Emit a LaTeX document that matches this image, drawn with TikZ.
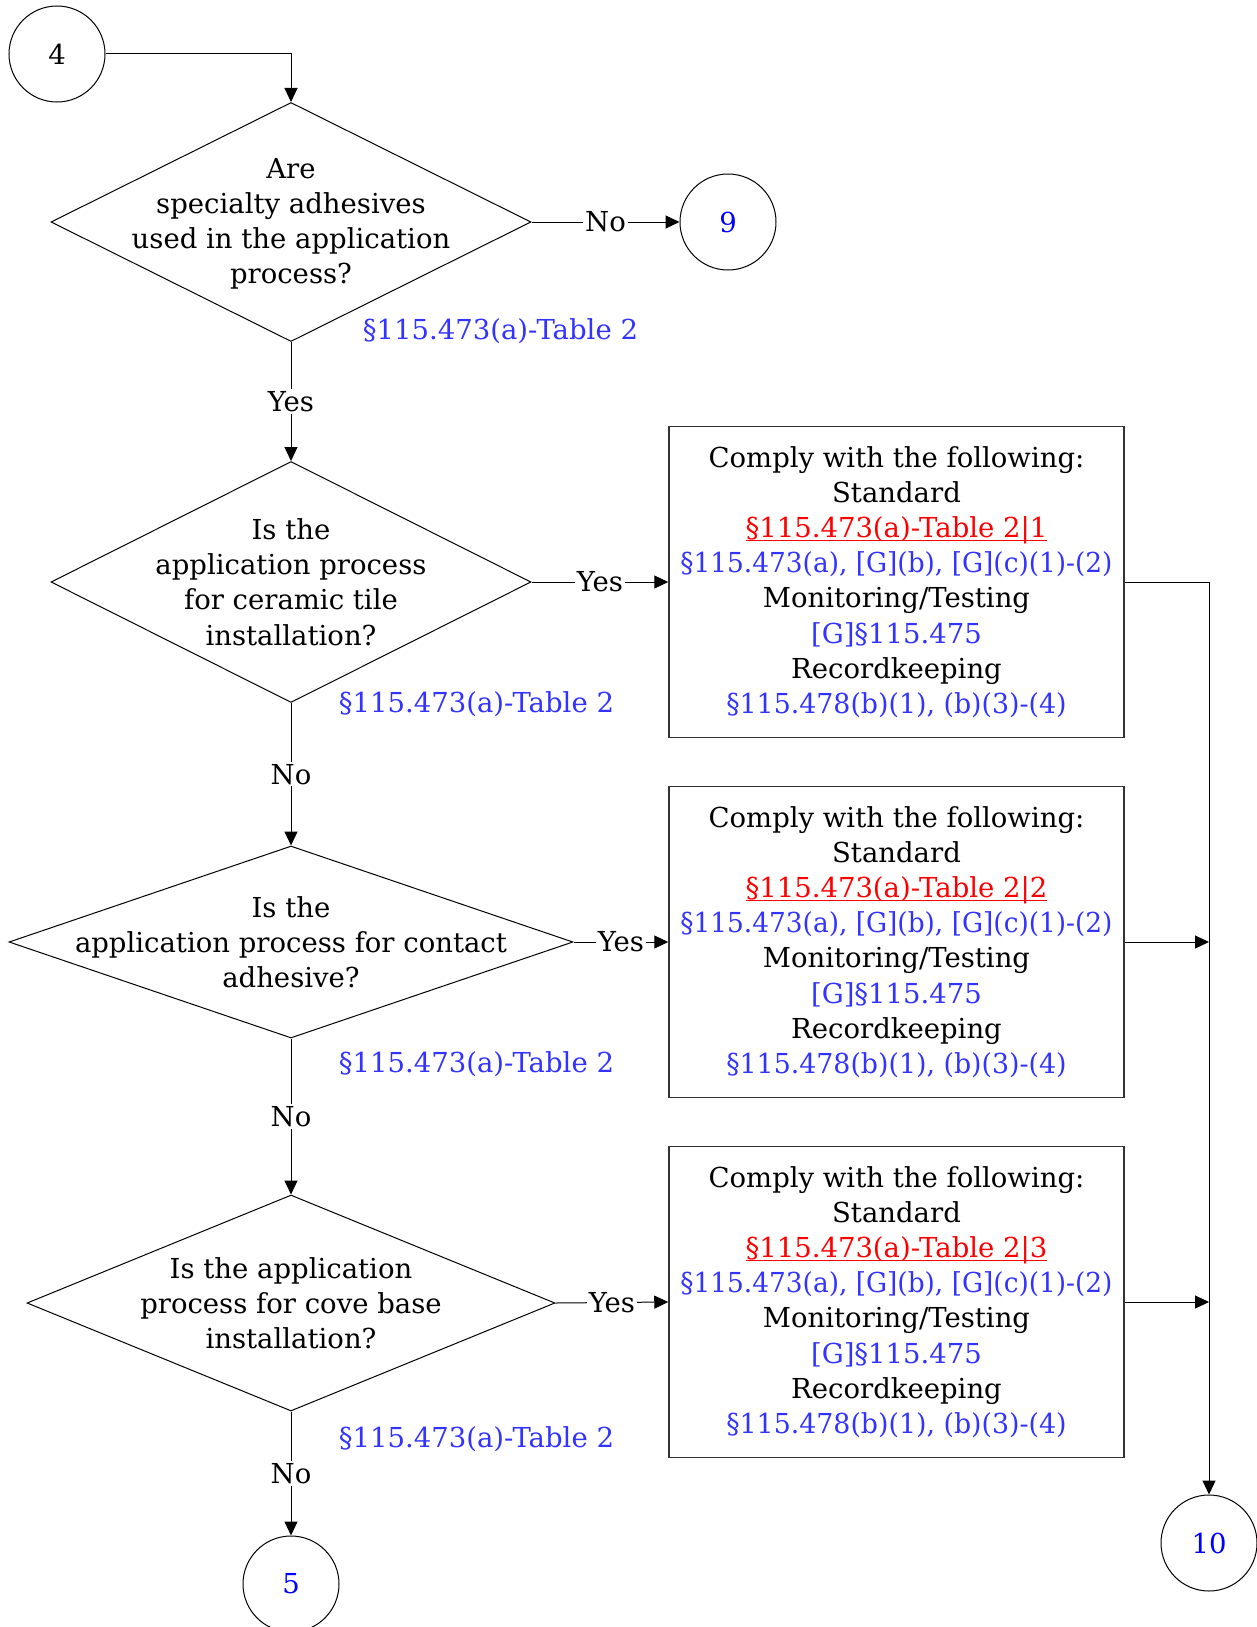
\documentclass[tikz,border=0pt]{standalone}
\usepackage{graphicx}
\usepackage{fontspec}
\setmainfont{DejaVu Serif}
\usetikzlibrary{shapes.geometric,arrows.meta}
\definecolor{refblue}{RGB}{51,51,255}
\definecolor{numblue}{RGB}{0,0,255}
\definecolor{refred}{RGB}{255,0,0}
\newcommand{\myul}[1]{\setbox0\hbox{#1}\rlap{\rule[-3.5pt]{\wd0}{1.2pt}}\box0}
\newcommand{\boxtext}[1]{Comply with the following:\\Standard\\{\color{refred}\myul{§115.473(a)-Table 2|#1}}\\{\color{refblue}\scalebox{0.96}[1]{§115.473(a), [G](b), [G](c)(1)-(2)}}\\Monitoring/Testing\\{\color{refblue}[G]§115.475}\\Recordkeeping\\{\color{refblue}\scalebox{0.975}[1]{§115.478(b)(1), (b)(3)-(4)}}}
\begin{document}
\begin{tikzpicture}[x=1pt,y=-1pt,
  font=\fontsize{27.5}{35.2}\selectfont,
  line width=1pt,
  dia/.style={draw, shape=diamond, inner sep=0pt, line width=1pt},
  circ/.style={draw, circle, minimum size=96pt, inner sep=0pt, line width=1pt},
  infobox/.style={draw=black!80, line width=1.5pt, minimum width=455pt, minimum height=311pt, inner sep=0pt, align=center},
  lbl/.style={fill=white, inner sep=2pt},
  ref/.style={text=refblue},
  arr/.style={-{Triangle[length=14pt,width=13pt]}},
  qtext/.style={align=center, inner sep=0pt}]
\useasboundingbox (0,0) rectangle (1257,1627);

% circles
\node[circ] (c4) at (57,54) {4};
\node[circ, text=numblue] (c9) at (728,222) {9};
\node[circ, text=numblue] (c10) at (1209,1543) {10};
\node[circ, text=numblue] (c5) at (291,1584) {5};

% diamonds
\node[dia, minimum width=480pt, minimum height=239pt] (d1) at (291,222) {};
\node[qtext] (q1) at ([yshift=-2pt]d1.center) {Are\\specialty adhesives\\used in the application\\process?};
\node[dia, minimum width=480pt, minimum height=241pt] (d2) at (291,582) {};
\node[qtext] (q2) at (d2) {Is the\\application process\\for ceramic tile\\installation?};
\node[dia, minimum width=564pt, minimum height=192pt] (d3) at (291,942) {};
\node[qtext] (q3) at (d3) {Is the\\application process for contact\\adhesive?};
\node[dia, minimum width=528pt, minimum height=216pt] (d4) at (291,1303) {};
\node[qtext] (q4) at (d4) {Is the application\\process for cove base\\installation?};

% references under diamonds
\node[ref] (t1) at (500.5,331) {§115.473(a)-Table 2};
\node[ref] (t2) at (476.5,704) {§115.473(a)-Table 2};
\node[ref] (t3) at (476.5,1064) {§115.473(a)-Table 2};
\node[ref] (t4) at (476.5,1439) {§115.473(a)-Table 2};

% boxes
\node[infobox] (b1) at (896.5,582) {\boxtext{1}};
\node[infobox] (b2) at (896.5,942) {\boxtext{2}};
\node[infobox] (b3) at (896.5,1302) {\boxtext{3}};

% connectors
\draw[arr] (c4.east) -| (d1.north);
\draw[arr] (d1.east) -- node[lbl] {No} (c9.west);
\draw[arr] (d1.south) -- node[lbl] {Yes} (d2.north);
\draw[arr] (d2.east) -- node[lbl] {Yes} (b1.west);
\draw[arr] (d2.south) -- node[lbl] {No} (d3.north);
\draw[arr] (d3.east) -- node[lbl] {Yes} (b2.west);
\draw[arr] (d3.south) -- node[lbl] {No} (d4.north);
\draw[arr] (d4.east) -- node[lbl] {Yes} (b3.west);
\draw[arr] (d4.south) -- node[lbl] {No} (c5.north);
\draw[arr] (b1.east) -| (c10.north);
\draw[arr] (b2.east) -- (c10.north |- b2.east);
\draw[arr] (b3.east) -- (c10.north |- b3.east);
\end{tikzpicture}
\end{document}
